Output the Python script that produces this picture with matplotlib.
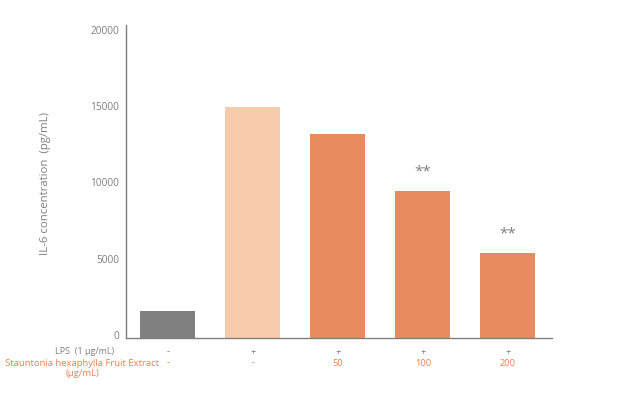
import matplotlib
matplotlib.use("Agg")
import matplotlib.pyplot as plt
from matplotlib.transforms import ScaledTranslation

# values
groups = ["Control", "LPS", "LPS+50", "LPS+100", "LPS+200"]
il6 = [1750, 15100, 13350, 9600, 5550]
bar_colors = ["#808080", "#f8cbad", "#e88c60", "#e88c60", "#e88c60"]
lps_row = ["-", "+", "+", "+", "+"]
extract_row = ["-", "-", "50", "100", "200"]
signif = ["", "", "", "**", "**"]
yticks = [0, 5000, 10000, 15000, 20000]

GRAY = "#7f7f7f"
ORANGE = "#ef7f4f"

plt.rcParams["font.family"] = ["Open Sans", "DejaVu Sans"]

fig = plt.figure(figsize=(6.29, 3.98), dpi=100)
ax = fig.add_axes([126 / 629, 60 / 398, 426 / 629, 313 / 398])

x = list(range(len(groups)))
ax.bar(x, il6, width=0.645, color=bar_colors, zorder=2)

for xi, v, s in zip(x, il6, signif):
    if s:
        ax.text(xi, v + 1250, s, ha="center", va="center",
                color=GRAY, fontsize=11)

ax.set_xlim(-0.49, 4.52)
ax.set_ylim(0, 20500)
ax.set_yticks(yticks)
ax.set_yticklabels([str(t) for t in yticks])
ax.set_xticks([])
ax.tick_params(axis="y", length=0, pad=5, labelsize=7.3, labelcolor=GRAY)
# labels in the reference sit a few px above their tick
shift = ScaledTranslation(0, 3 / 100, fig.dpi_scale_trans)
for lab in ax.get_yticklabels():
    lab.set_transform(lab.get_transform() + shift)

for side in ["top", "right"]:
    ax.spines[side].set_visible(False)
for side in ["left", "bottom"]:
    ax.spines[side].set_color(GRAY)
    ax.spines[side].set_linewidth(1.0)

ax.set_ylabel("IL-6 concentration  (pg/mL)", color=GRAY, fontsize=8.2)
ax.yaxis.set_label_coords(-0.175, 0.495)

# treatment table under the bars
tr = ax.get_xaxis_transform()
for xi, a, b in zip(x, lps_row, extract_row):
    ax.text(xi, -0.045, a, transform=tr, ha="center", va="center",
            color=GRAY, fontsize=6.7)
    ax.text(xi, -0.080, b, transform=tr, ha="center", va="center",
            color=ORANGE, fontsize=6.7)

fig.text(85 / 629, 1 - 352 / 398, "LPS  (1 \u03bcg/mL)", ha="center", va="center",
         color=GRAY, fontsize=6.5)
fig.text(82 / 629, 1 - 368.5 / 398, "Stauntonia hexaphylla Fruit Extract\n(\u03bcg/mL)",
         ha="center", va="center", color=ORANGE, fontsize=6.8, linespacing=1.25)

fig.savefig("out.png", dpi=100)
